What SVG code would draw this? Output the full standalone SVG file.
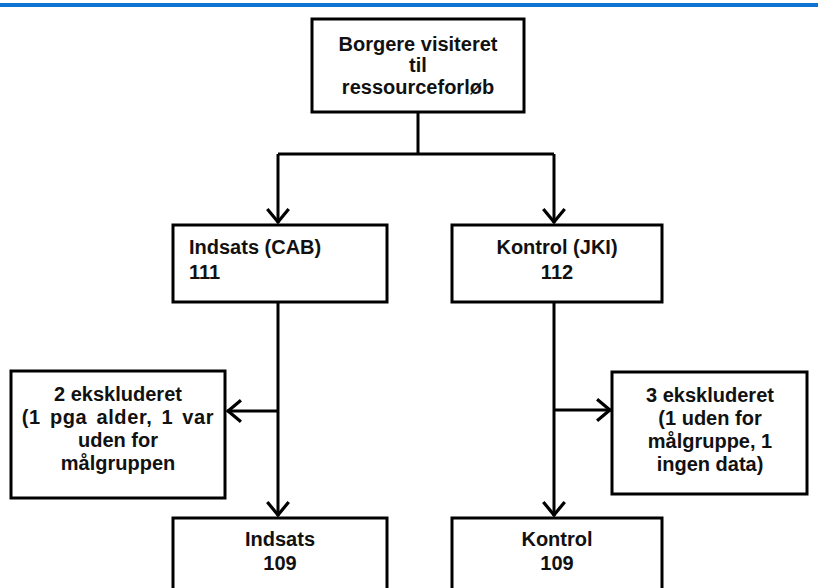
<svg xmlns="http://www.w3.org/2000/svg" width="818" height="588" viewBox="0 0 818 588">
<defs>
<style>
.box{fill:#fff;stroke:#000;stroke-width:3}
.t{font-family:"Liberation Sans",Arial,sans-serif;font-weight:bold;font-size:20px;fill:#111}
.c{text-anchor:middle}
.ln{fill:none;stroke:#000;stroke-width:3}
</style>
<marker id="arr" markerUnits="userSpaceOnUse" markerWidth="30" markerHeight="30" viewBox="-16 -14 18 28" refX="0" refY="0" orient="auto">
<path d="M-13,-10 L-1,0 L-13,10" fill="none" stroke="#000" stroke-width="3"/>
</marker>
</defs>
<rect x="0" y="3" width="818" height="4" fill="#0f74d1"/>
<g id="connectors">
<path class="ln" d="M418,113 V154 M278,154 H554"/>
<path class="ln" d="M278,154 V223" marker-end="url(#arr)"/>
<path class="ln" d="M554,154 V223" marker-end="url(#arr)"/>
<path class="ln" d="M278,303 V516" marker-end="url(#arr)"/>
<path class="ln" d="M554,303 V516" marker-end="url(#arr)"/>
<path class="ln" d="M278,411 H227" marker-end="url(#arr)"/>
<path class="ln" d="M554,410 H611" marker-end="url(#arr)"/>
</g>
<g id="start">
<rect class="box" x="312" y="19" width="212" height="93"/>
<text class="t c" x="418" y="51">Borgere visiteret</text>
<text class="t c" x="418" y="72">til</text>
<text class="t c" x="418" y="94">ressourceforløb</text>
</g>
<g id="indsats-cab">
<rect class="box" x="173" y="225" width="214" height="77"/>
<text class="t" x="189" y="254">Indsats (CAB)</text>
<text class="t" x="189" y="279">111</text>
</g>
<g id="kontrol-jki">
<rect class="box" x="452" y="225" width="210" height="77"/>
<text class="t c" x="557" y="254">Kontrol (JKI)</text>
<text class="t c" x="557" y="279">112</text>
</g>
<g id="excl-left">
<rect class="box" x="11" y="371" width="214" height="127"/>
<text class="t c" x="118" y="401">2 ekskluderet</text>
<text class="t c" x="118" y="424" word-spacing="3" letter-spacing="0.6">(1 pga alder, 1 var</text>
<text class="t c" x="118" y="447">uden for</text>
<text class="t c" x="118" y="470">målgruppen</text>
</g>
<g id="excl-right">
<rect class="box" x="612" y="372" width="195" height="122"/>
<text class="t c" x="710" y="402">3 ekskluderet</text>
<text class="t c" x="710" y="425">(1 uden for</text>
<text class="t c" x="710" y="448">målgruppe, 1</text>
<text class="t c" x="710" y="471">ingen data)</text>
</g>
<g id="indsats">
<rect class="box" x="173" y="518" width="214" height="100"/>
<text class="t c" x="280" y="546">Indsats</text>
<text class="t c" x="280" y="570">109</text>
</g>
<g id="kontrol">
<rect class="box" x="452" y="518" width="210" height="100"/>
<text class="t c" x="557" y="546">Kontrol</text>
<text class="t c" x="557" y="570">109</text>
</g>
</svg>
